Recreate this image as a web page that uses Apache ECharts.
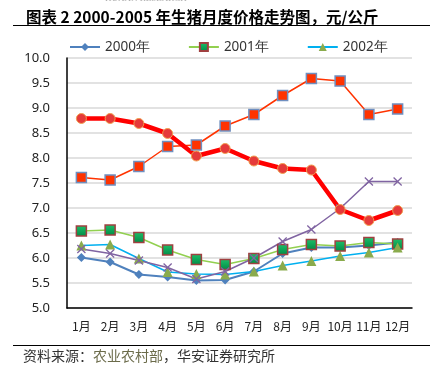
<!DOCTYPE html>
<html>
<head>
<meta charset="utf-8">
<script src="https://cdn.jsdelivr.net/npm/echarts@6/dist/echarts.min.js"></script>
<style>
  html, body { margin: 0; padding: 0; background: #fff; }
  #main { width: 433px; height: 368px; }
</style>
</head>
<body>
<div id="main"></div>
<script>
// 月份
var months = ['1月','2月','3月','4月','5月','6月','7月','8月','9月','10月','11月','12月'];
// 各年生猪价格，元/公斤
var y2000 = [6.01, 5.92, 5.67, 5.62, 5.55, 5.56, 5.73, 6.09, 6.21, 6.21, 6.25, 6.31];
var y2001 = [6.54, 6.56, 6.41, 6.16, 5.97, 5.87, 5.99, 6.17, 6.27, 6.24, 6.31, 6.28];
var y2002 = [6.25, 6.27, 5.99, 5.72, 5.68, 5.67, 5.73, 5.85, 5.94, 6.04, 6.11, 6.21];
var y2003 = [6.18, 6.09, 5.95, 5.81, 5.58, 5.73, 6.00, 6.33, 6.57, 6.99, 7.53, 7.53];
var y2004 = [7.61, 7.56, 7.83, 8.23, 8.26, 8.64, 8.87, 9.25, 9.59, 9.54, 8.87, 8.98];
var y2005 = [8.79, 8.79, 8.69, 8.49, 8.04, 8.19, 7.94, 7.79, 7.76, 6.97, 6.75, 6.95];

var crossPath = 'path://M0,1L1,0L5,4L9,0L10,1L6,5L10,9L9,10L5,6L1,10L0,9L4,5Z';

var dom = document.getElementById('main');
var myChart = echarts.init(dom);
myChart.setOption({
    animation: false,
    title: {
        text: '图表 2 2000-2005 年生猪月度价格走势图，元/公斤',
        left: 21,
        top: 4,
        textStyle: {
            color: '#000',
            fontWeight: 'bold',
            fontSize: 15.5,
            fontFamily: 'Noto Sans CJK SC'
        }
    },
    graphic: [
        { type: 'text', left: 105, top: -6, style: { text: 'HUAAN RESEARCH', fill: '#aaa', fontSize: 9, fontFamily: 'Liberation Serif' } },
        { type: 'line', shape: { x1: 13, y1: 25.5, x2: 430, y2: 25.5 }, style: { stroke: '#000', lineWidth: 1 } },
        { type: 'line', shape: { x1: 13, y1: 345.5, x2: 430, y2: 345.5 }, style: { stroke: '#000', lineWidth: 1 } },
        {
            type: 'text', left: 23, top: 349,
            style: {
                rich: {
                    a: { fill: '#333', fontSize: 14, fontFamily: 'Noto Sans CJK SC' },
                    b: { fill: '#6b6b4a', fontSize: 14, fontFamily: 'Noto Sans CJK SC' },
                    c: { fill: '#333', fontSize: 14, fontFamily: 'Noto Sans CJK SC' }
                },
                text: '{a|资料来源：}{b|农业农村部}{c|，华安证券研究所}'
            }
        }
    ],
    legend: {
        data: ['2000年', '2001年', '2002年'],
        top: 35,
        left: 64,
        itemWidth: 30,
        itemHeight: 10,
        itemGap: 38,
        textStyle: { fontSize: 13.5, color: '#333', fontFamily: 'Noto Sans' }
    },
    grid: {
        left: 67,
        right: 21,
        top: 58,
        bottom: 60
    },
    xAxis: {
        type: 'category',
        data: months,
        boundaryGap: true,
        axisLine: { show: true, lineStyle: { color: '#000', width: 1.5 } },
        axisTick: { show: false },
        axisLabel: { fontSize: 12, color: '#222', margin: 12, interval: 0, fontFamily: 'Noto Sans CJK SC' }
    },
    yAxis: {
        type: 'value',
        min: 5,
        max: 10,
        interval: 0.5,
        axisLine: { show: true, lineStyle: { color: '#000', width: 1.5 } },
        axisTick: { show: false },
        axisLabel: {
            fontSize: 13,
            color: '#222',
            margin: 17,
            fontFamily: 'Noto Sans',
            formatter: function (v) { return v.toFixed(1); }
        },
        splitLine: { lineStyle: { color: '#d9d9d9', width: 1.5 } }
    },
    series: [
        {
            name: '2000年',
            type: 'line',
            data: y2000,
            symbol: 'diamond',
            symbolSize: 9,
            lineStyle: { color: '#4f81bd', width: 2 },
            itemStyle: { color: '#4f81bd' }
        },
        {
            name: '2001年',
            type: 'line',
            data: y2001,
            symbol: 'rect',
            symbolSize: 10,
            lineStyle: { color: '#92d050', width: 1.5 },
            itemStyle: {
                color: new echarts.graphic.LinearGradient(0, 0, 0, 1, [
                    { offset: 0, color: '#1ec06a' },
                    { offset: 1, color: '#008a45' }
                ]),
                borderColor: '#a04040',
                borderWidth: 1.5
            }
        },
        {
            name: '2002年',
            type: 'line',
            data: y2002,
            symbol: 'triangle',
            symbolSize: 10,
            lineStyle: { color: '#00b0f0', width: 1.5 },
            itemStyle: { color: '#8aab4c' }
        },
        {
            name: '2003年',
            type: 'line',
            data: y2003,
            symbol: crossPath,
            symbolSize: 9,
            lineStyle: { color: '#8064a2', width: 1.5 },
            itemStyle: { color: '#8064a2' }
        },
        {
            name: '2004年',
            type: 'line',
            data: y2004,
            symbol: 'rect',
            symbolSize: 10,
            lineStyle: { color: '#ff3300', width: 1.5 },
            itemStyle: { color: '#ff3300', borderColor: '#6f8fc0', borderWidth: 1.5 }
        },
        {
            name: '2005年',
            type: 'line',
            data: y2005,
            symbol: 'circle',
            symbolSize: 10,
            lineStyle: { color: '#ff0000', width: 4.5 },
            itemStyle: { color: '#e53a3a', borderColor: '#f0a050', borderWidth: 1 }
        }
    ]
});
window.addEventListener('resize', function () {
    myChart.resize();
});
</script>
</body>
</html>
